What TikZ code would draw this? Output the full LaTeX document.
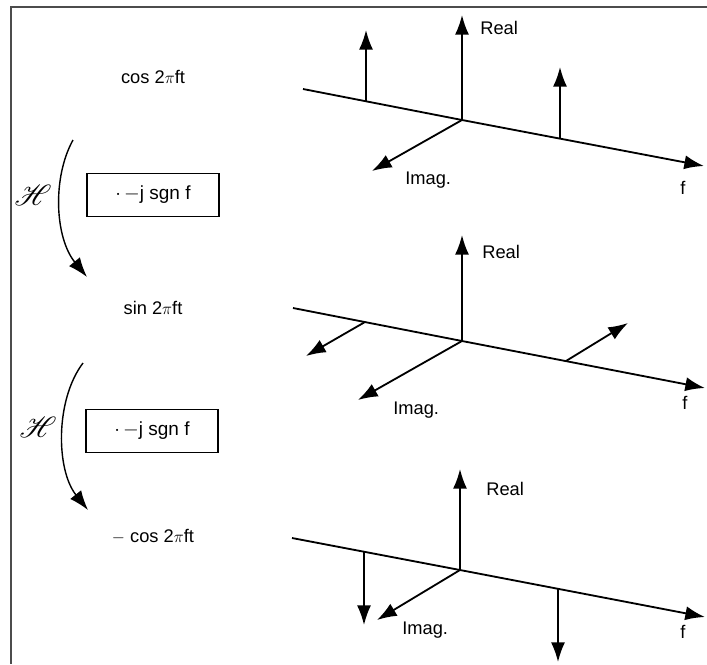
\documentclass[tikz,border=0pt]{standalone}
\usepackage{amsmath}
\usepackage{amssymb}
\usepackage{mathrsfs}
\usepackage{fontspec}
\setmainfont{Liberation Sans}
\usetikzlibrary{arrows.meta}

\tikzset{
  vec/.style={line width=1.3pt,-{Latex[length=14pt,width=10pt]}},
  txt/.style={font=\fontsize{13}{15}\selectfont,inner sep=1pt},
  opbox/.style={draw,line width=1pt,minimum width=132\pxu,minimum height=43\pxu,font=\fontsize{13.5}{15}\selectfont},
}
\newlength{\pxu}
\setlength{\pxu}{0.025cm}

\begin{document}
\begin{tikzpicture}[x=0.025cm,y=-0.025cm]
        \useasboundingbox (0,0) rectangle (707,664);
        \draw[line width=1.3pt,black!70] (707,7) -- (11,7) -- (11,664); % frame

        % left column: signals and the Hilbert steps
        \node[txt] (cosA) at (153,77) {cos 2$\pi$ft};
        \node[txt] (sinB) at (153,308) {sin 2$\pi$ft};
        \node[txt] (cosC) at (153,537) {$-$ cos 2$\pi$ft};
        \node[opbox] (opA) at (153,195) {$\cdot$\,$-$j sgn f};
        \node[opbox] (opB) at (152,431) {$\cdot$\,$-$j sgn f};
        \node[txt,font=\huge] (hA) at (33,195) {$\mathscr{H}$};
        \node[txt,font=\huge] (hB) at (38,427) {$\mathscr{H}$};
        \coordinate (hAs) at (73,140); \coordinate (hAe) at (87,277);
        \coordinate (hBs) at (83,363); \coordinate (hBe) at (88,510);
        \draw[vec,line width=1pt] (hAs) .. controls (52,178) and (55,238) .. (hAe); % H applied once
        \draw[vec,line width=1pt] (hBs) .. controls (55,400) and (56,470) .. (hBe); % H applied twice

        % spectrum of cos: two real impulses
        \coordinate (oA) at (462,120);
        \coordinate (sA) at (303,89);
        \coordinate (eA) at (704,166);
        \draw[vec] (sA) -- (oA) -- (eA); % f axis
        \draw[vec] (oA) -- (462,15) node[txt,anchor=west] (realA) at (478,28) {Real};
        \draw[vec] (oA) -- (372,171) node[txt,anchor=west] (imagA) at (403,180) {Imag.};
        \node[txt] (fA) at (683,188) {f};
        \coordinate (pA1) at (366,101); \coordinate (pA2) at (560,139);
        \draw[vec] (pA1) -- (366,30); % impulse at -f
        \draw[vec] (pA2) -- (560,67); % impulse at +f

        % spectrum of sin: imaginary impulses
        \coordinate (oB) at (462,341);
        \coordinate (sB) at (293,308);
        \coordinate (eB) at (705,388);
        \draw[vec] (sB) -- (oB) -- (eB); % f axis
        \draw[vec] (oB) -- (462,235) node[txt,anchor=west] (realB) at (480,252) {Real};
        \draw[vec] (oB) -- (358,400) node[txt,anchor=west] (imagB) at (391,410) {Imag.};
        \node[txt] (fB) at (685,403) {f};
        \coordinate (pB1) at (365,322); \coordinate (pB2) at (566,361);
        \draw[vec] (pB1) -- (306,356); % impulse at -f
        \draw[vec] (pB2) -- (628,323); % impulse at +f

        % spectrum of -cos: negative real impulses
        \coordinate (oC) at (460,570);
        \coordinate (sC) at (292,538);
        \coordinate (eC) at (705,617);
        \draw[vec] (sC) -- (oC) -- (eC); % f axis
        \draw[vec] (oC) -- (460,469) node[txt,anchor=west] (realC) at (484,489) {Real};
        \draw[vec] (oC) -- (377,620) node[txt,anchor=west] (imagC) at (400,630) {Imag.};
        \node[txt] (fC) at (683,632) {f};
        \coordinate (pC1) at (364,552); \coordinate (pC2) at (558,589);
        \draw[vec] (pC1) -- (364,625); % impulse at -f
        \draw[vec] (pC2) -- (558,662); % impulse at +f
    \end{tikzpicture}
\end{document}
